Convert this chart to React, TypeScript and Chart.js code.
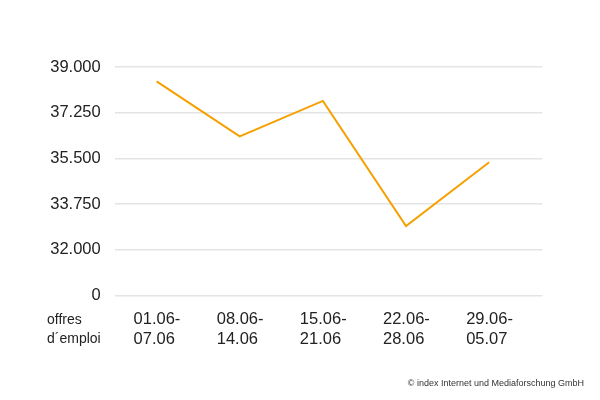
import React, { useEffect, useRef } from "react";
import { Chart, registerables } from "chart.js";

Chart.register(...registerables);

const weekLabels: string[][] = [
  ["01.06-", "07.06"],
  ["08.06-", "14.06"],
  ["15.06-", "21.06"],
  ["22.06-", "28.06"],
  ["29.06-", "05.07"],
];
const jobOffers: number[] = [38450, 36340, 37700, 32900, 35350];
const yTickValues: number[] = [30250, 32000, 33750, 35500, 37250, 39000];
const axisTitleLines: string[] = ["offres", "d´emploi"];
const sourceNote = "© index Internet und Mediaforschung GmbH";

const FONT = "'Liberation Sans', Arial, sans-serif";
const TEXT = "#222222";

function fmt(v: number): string {
  if (v === yTickValues[0]) return "0";
  const s = Math.round(v).toString();
  return s.replace(/\B(?=(\d{3})+(?!\d))/g, ".");
}

const extrasPlugin = {
  id: "extras",
  afterDraw(chart: any) {
    const ctx = chart.ctx;
    const xs = chart.scales.x;
    ctx.save();
    ctx.fillStyle = TEXT;
    ctx.font = `14px ${FONT}`;
    ctx.textAlign = "left";
    ctx.textBaseline = "middle";
    const top = xs.top + 15;
    const lh = 19.2;
    axisTitleLines.forEach((t, i) => {
      ctx.fillText(t, 47, top + lh / 2 + i * lh);
    });
    ctx.font = `9px ${FONT}`;
    ctx.fillStyle = "#333333";
    ctx.textAlign = "right";
    ctx.textBaseline = "middle";
    ctx.fillText(sourceNote, 584, 384);
    ctx.restore();
  },
};

export default function App() {
  const ref = useRef<HTMLCanvasElement | null>(null);
  useEffect(() => {
    document.body.style.margin = "0";
    if (!ref.current) return;
    const chart = new Chart(ref.current, {
      type: "line",
      data: {
        datasets: [
          {
            data: jobOffers.map((v, i) => ({ x: i, y: v })),
            borderColor: "#f5a000",
            borderWidth: 2,
            pointRadius: 0,
            tension: 0,
            fill: false,
          },
        ],
      },
      options: {
        animation: false,
        responsive: false,
        maintainAspectRatio: false,
        layout: { padding: { top: 67, right: 57.7, bottom: 54.7, left: 0 } },
        plugins: {
          legend: { display: false },
          tooltip: { enabled: false },
        },
        scales: {
          x: {
            type: "linear",
            min: -0.5,
            max: 4.639,
            grid: { display: false, drawTicks: false },
            border: { display: false },
            afterBuildTicks: (s: any) => {
              s.ticks = weekLabels.map((_, i) => ({ value: i }));
            },
            afterFit: (s: any) => {
              s.height = 50;
            },
            ticks: {
              align: "start",
              labelOffset: -23,
              padding: 15,
              maxRotation: 0,
              autoSkip: false,
              color: TEXT,
              font: { family: FONT, size: 16.5, lineHeight: 1.17 },
              callback: (_v: any, i: number) => weekLabels[i],
            },
          },
          y: {
            type: "linear",
            min: yTickValues[0],
            max: yTickValues[yTickValues.length - 1],
            grid: { color: "#e4e4e4", lineWidth: 1.5, drawTicks: false },
            border: { display: false },
            afterBuildTicks: (s: any) => {
              s.ticks = yTickValues.map((v) => ({ value: v }));
            },
            afterFit: (s: any) => {
              s.width = 115;
            },
            ticks: {
              padding: 14.3,
              color: TEXT,
              font: { family: FONT, size: 16.5 },
              callback: (v: any) => fmt(Number(v)),
            },
          },
        },
      },
      plugins: [extrasPlugin],
    } as any);
    return () => chart.destroy();
  }, []);
  return <canvas ref={ref} width={600} height={400} style={{ display: "block" }} />;
}
